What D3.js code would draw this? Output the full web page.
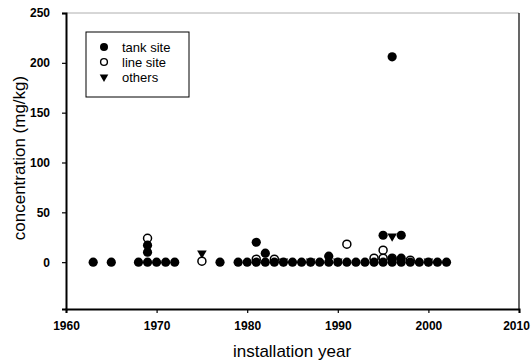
<!DOCTYPE html>
<html>
<head>
<meta charset="utf-8">
<script src="https://cdn.jsdelivr.net/npm/d3@7"></script>
<style>
  body { margin: 0; background: #fff; }
  svg { display: block; }
</style>
</head>
<body>
<script>
'use strict';

// data: [year, concentration]
let tankYears = [1963, 1965, 1968, 1969, 1969, 1969, 1970, 1971, 1972, 1977,
  1979, 1980, 1981, 1981, 1982, 1982, 1983, 1984, 1985, 1986, 1987, 1988, 1989, 1989,
  1990, 1991, 1992, 1993, 1994, 1995, 1995, 1996, 1996, 1996, 1997, 1997, 1997,
  1998, 1999, 2000, 2001, 2002];
let tankValues = [0, 0, 0, 0, 10, 17, 0, 0, 0, 0,
  0, 0, 0, 20, 0, 9, 0, 0, 0, 0, 0, 0, 0, 6,
  0, 0, 0, 0, 0, 0, 27, 0, 3, 206, 0, 4, 27,
  0, 0, 0, 0, 0];

let lineYears = [1969, 1975, 1981, 1983, 1991, 1994, 1995, 1995, 1996, 1998];
let lineValues = [24, 1, 3, 3, 18, 4, 12, 4, 4, 2];

let otherYears = [1975, 1996, 1984, 1987, 1990, 1994, 2000];
let otherValues = [8, 25, 0, 0, 0, 0, 0];

let xTicks = [1960, 1970, 1980, 1990, 2000, 2010];
let yTicks = [0, 50, 100, 150, 200, 250];
let seriesNames = ['tank site', 'line site', 'others'];

let w = 531, h = 363;
let margin = { left: 66, right: 12, top: 13, bottom: 54 };

let svg = d3.select('body')
    .append('svg')
    .attr('width', w)
    .attr('height', h);

let x = d3.scaleLinear()
    .domain([1960, 2010])
    .range([margin.left, w - margin.right]);

let y = d3.scaleLinear()
    .domain([-47, 250])
    .range([h - margin.bottom, margin.top]);

// frame: faint top, solid right
svg.append('line')
    .attr('x1', x(1960)).attr('x2', x(2010))
    .attr('y1', y(250)).attr('y2', y(250))
    .attr('stroke', '#999').attr('stroke-width', 0.8);
svg.append('line')
    .attr('x1', x(2010)).attr('x2', x(2010))
    .attr('y1', y(250)).attr('y2', y(-47))
    .attr('stroke', '#000').attr('stroke-width', 1.2);

let xAxis = svg.append('g')
    .attr('transform', 'translate(0,' + y(-47) + ')')
    .call(d3.axisBottom(x).tickValues(xTicks).tickFormat(d3.format('d')).tickSize(4).tickPadding(8));

let yAxis = svg.append('g')
    .attr('transform', 'translate(' + x(1960) + ',0)')
    .call(d3.axisLeft(y).tickValues(yTicks).tickSize(4).tickPadding(12));

[xAxis, yAxis].forEach(g => {
  g.select('.domain').attr('stroke-width', 2);
  g.selectAll('.tick line').attr('stroke-width', 1.2);
  g.selectAll('text')
      .attr('font-family', 'Liberation Sans, Arial, sans-serif')
      .attr('font-weight', 'bold')
      .attr('font-size', '12px')
      .attr('fill', '#000');
});

// last x label sits against the page edge
xAxis.selectAll('.tick text')
    .filter(d => d === 2010)
    .attr('dx', -3);

let r = 4.6;
let triangle = d3.symbol().type(d3.symbolTriangle).size(40);

// triangles (others) drawn first, then circles on top
svg.append('g').selectAll('path')
    .data(d3.zip(otherYears, otherValues))
    .enter()
    .append('path')
    .attr('d', triangle)
    .attr('transform', d => 'translate(' + x(d[0]) + ',' + (y(d[1]) - 1) + ') rotate(180)')
    .attr('fill', '#000');

svg.append('g').selectAll('circle')
    .data(d3.zip(lineYears, lineValues))
    .enter()
    .append('circle')
    .attr('cx', d => x(d[0]))
    .attr('cy', d => y(d[1]))
    .attr('r', r - 0.6)
    .attr('fill', '#fff')
    .attr('stroke', '#000')
    .attr('stroke-width', 1.5);

svg.append('g').selectAll('circle')
    .data(d3.zip(tankYears, tankValues))
    .enter()
    .append('circle')
    .attr('cx', d => x(d[0]))
    .attr('cy', d => y(d[1]))
    .attr('r', r)
    .attr('fill', '#000');

// legend
let legend = svg.append('g').attr('transform', 'translate(86,32)');
legend.append('rect')
    .attr('width', 103).attr('height', 65)
    .attr('fill', '#fff').attr('stroke', '#000').attr('stroke-width', 1);

let rows = legend.selectAll('g.row')
    .data(seriesNames)
    .enter()
    .append('g')
    .attr('class', 'row')
    .attr('transform', (d, i) => 'translate(18,' + (15 + i * 15) + ')');

rows.each(function (d, i) {
  let g = d3.select(this);
  if (i === 0) {
    g.append('circle').attr('r', 4).attr('fill', '#000');
  } else if (i === 1) {
    g.append('circle').attr('r', 3.4).attr('fill', '#fff').attr('stroke', '#000').attr('stroke-width', 1.4);
  } else {
    g.append('path').attr('d', d3.symbol().type(d3.symbolTriangle).size(32)).attr('transform', 'rotate(180)').attr('fill', '#000');
  }
});

rows.append('text')
    .text(d => d)
    .attr('x', 18)
    .attr('y', 4.5)
    .attr('font-family', 'Liberation Sans, Arial, sans-serif')
    .attr('font-size', '13px')
    .attr('fill', '#000');

// axis titles
svg.append('text')
    .text('installation year')
    .attr('x', 292)
    .attr('y', 357)
    .attr('text-anchor', 'middle')
    .attr('font-family', 'Liberation Sans, Arial, sans-serif')
    .attr('font-size', '17px')
    .attr('fill', '#000');

svg.append('text')
    .text('concentration (mg/kg)')
    .attr('transform', 'translate(25,158) rotate(-90)')
    .attr('text-anchor', 'middle')
    .attr('font-family', 'Liberation Sans, Arial, sans-serif')
    .attr('font-size', '17px')
    .attr('fill', '#000');
</script>
</body>
</html>
